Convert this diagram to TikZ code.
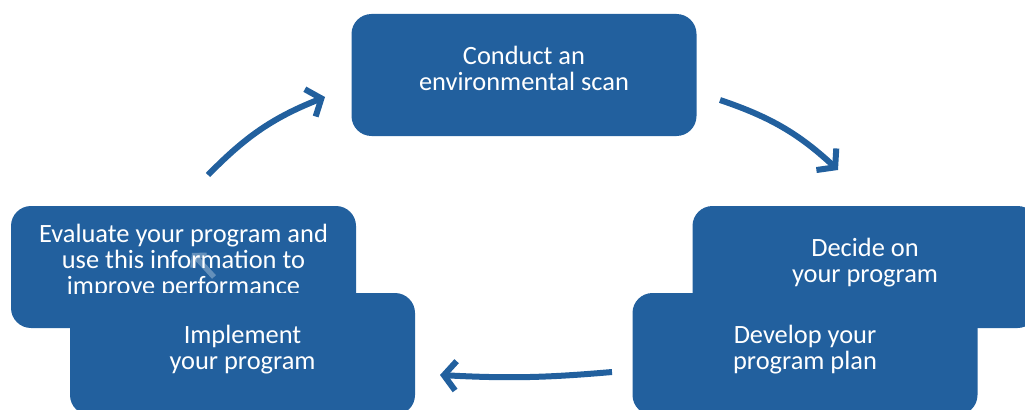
\documentclass[tikz,border=0pt]{standalone}
\usepackage{fontspec}
\setmainfont{Carlito}
\usetikzlibrary{arrows.meta}
\definecolor{stageblue}{RGB}{34,96,158}
\tikzset{
	stage/.style={fill=stageblue, rounded corners=15pt, minimum width=258.75pt, minimum height=91.5pt, inner sep=0pt, text=white, align=center, text depth=9.5pt, font=\fontsize{19.8}{19.5}\selectfont},
	cycle/.style={draw=stageblue, line width=4.5pt, -{Straight Barb[length=9pt,width=22pt]}},
	ghost/.style={draw=white, opacity=0.3, line width=4pt, -{Straight Barb[length=6pt,width=14pt]}}
}

\begin{document}
\begin{tikzpicture}[x=0.75pt,y=-0.75pt]
	\useasboundingbox (0,0) rectangle (1025,410);
	\clip (0,0) rectangle (1025,410);

	\node[stage] (scan) at (524,75) {Conduct an\\environmental scan};
	\node[stage] (decide) at (865,267) {Decide on\\your program};
	\node[stage] (develop) at (805,354) {Develop your\\program plan};
	\node[stage, text depth=12pt] (evaluate) at (183.5,267) {Evaluate your program and\\use this information to\\improve performance};
	\node[stage] (implement) at (242.5,354) {Implement\\your program};

	\coordinate (a1) at (208,175);
	\coordinate (a2) at (325,97);
	\coordinate (b1) at (720,100);
	\coordinate (b2) at (838,170);
	\coordinate (c1) at (612,372);
	\coordinate (c2) at (440,375);
	\draw[cycle] (a1) to[bend left=12] (a2);
	\draw[cycle] (b1) to[bend left=12] (b2);
	\draw[cycle] (c1) to[bend left=4] (c2);

	% faint tip left inside the evaluate box
	\coordinate (g1) at (214,277);
	\coordinate (g2) at (192,253);
	\draw[ghost] (g1) -- (g2);
\end{tikzpicture}
\end{document}
